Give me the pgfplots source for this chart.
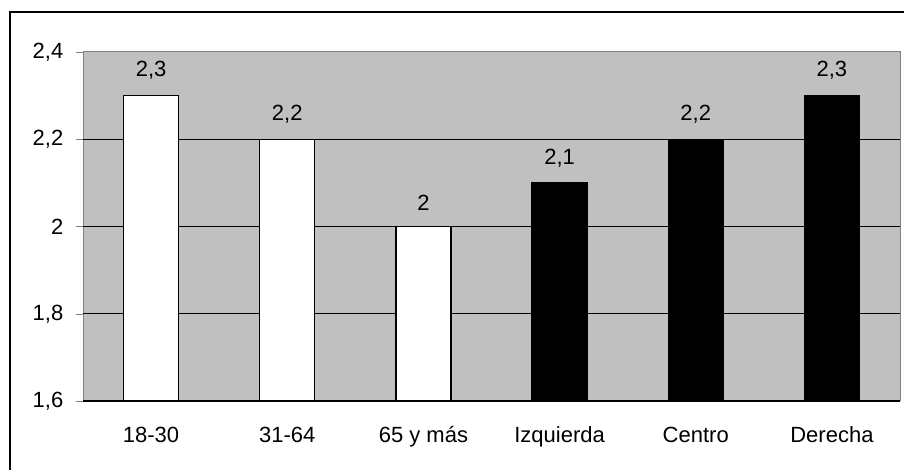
\documentclass[border=0pt]{standalone}
\usepackage{pgfplots}
\pgfplotsset{compat=1.18}
\usepackage{fontspec}
\setmainfont{Liberation Sans}
\definecolor{plotgray}{HTML}{C0C0C0}
\definecolor{framegray}{HTML}{808080}
\begin{document}
\fontsize{11}{13}\selectfont
\begin{tikzpicture}
\useasboundingbox (0,0) rectangle (452pt,235pt);
\draw[line width=1pt] (5pt,0) -- (5pt,229pt) -- (452pt,229pt);
\begin{axis}[
    at={(41.5pt,34.5pt)}, anchor=south west,
    scale only axis,
    width=408.5pt, height=174.5pt,
    xmin=-0.5, xmax=5.5,
    ymin=1.6, ymax=2.4,
    ytick={1.6,1.8,2,2.2,2.4},
    xtick={0,...,5},
    xticklabels={18-30,31-64,65 y más,Izquierda,Centro,Derecha},
    xtick style={draw=none},
    extra x ticks={-0.5,0.5,1.5,2.5,3.5,4.5,5.5},
    extra x tick labels={},
    extra x tick style={tick style={draw=black, thin}},
    tick align=outside,
    major tick length=3.5pt,
    ytick pos=left, xtick pos=bottom,
    axis line style={framegray, line width=0.5pt},
    axis background/.style={fill=plotgray},
    /pgf/number format/assume math mode=true,
    /pgf/number format/use comma,
    yticklabel style={xshift=-2.5pt},
    xticklabel style={yshift=-5.5pt},
    ybar, bar width=27.5pt, bar shift=0pt,
    nodes near coords,
    nodes near coords style={yshift=4pt, text=black},
    clip=false,
]
% grid lines under the bars
\draw[black, line width=0.5pt] (axis cs:-0.5,1.8) -- (axis cs:5.5,1.8);
\draw[black, line width=0.5pt] (axis cs:-0.5,2.0) -- (axis cs:5.5,2.0);
\draw[black, line width=0.5pt] (axis cs:-0.5,2.2) -- (axis cs:5.5,2.2);
\addplot[draw=black, fill=white, line width=0.6pt] coordinates {(0,2.3) (1,2.2) (2,2.0)};
\addplot[draw=black, fill=black, line width=0.6pt] coordinates {(3,2.1) (4,2.2) (5,2.3)};
\draw[black, line width=1pt] (axis cs:-0.5,1.6) -- (axis cs:5.5,1.6);
\end{axis}
\end{tikzpicture}
\end{document}
